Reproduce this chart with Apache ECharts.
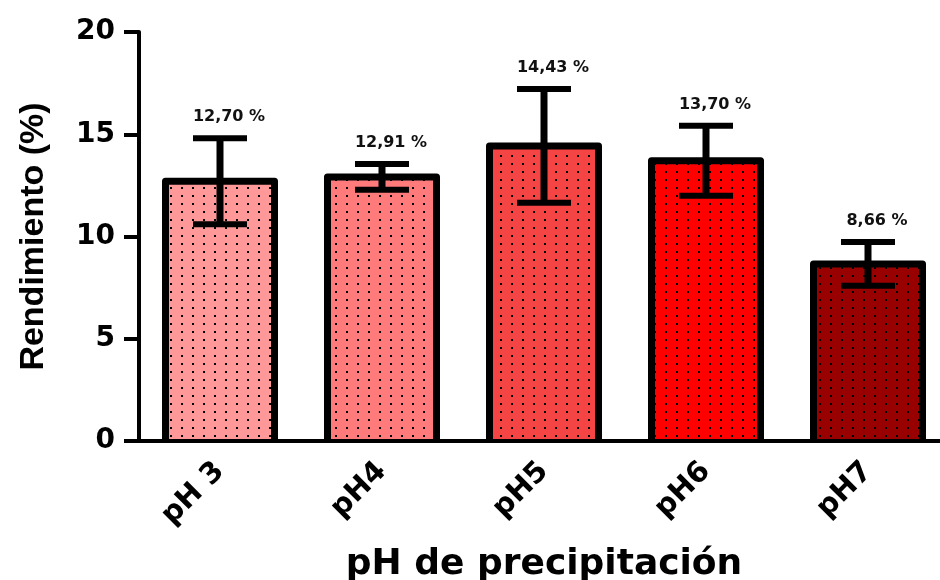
<!DOCTYPE html>
<html>
<head>
<meta charset="utf-8">
<script src="https://cdn.jsdelivr.net/npm/echarts@6/dist/echarts.min.js"></script>
<style>
html, body { margin: 0; padding: 0; background: #ffffff; }
#chart { width: 940px; height: 580px; }
</style>
</head>
<body>
<div id="chart"></div>
<script>
// Yield (%) at each precipitation pH, mean and standard deviation
const categories = ['pH 3', 'pH4', 'pH5', 'pH6', 'pH7'];
const yieldMean = [12.70, 12.91, 14.43, 13.70, 8.66];
const yieldSd = [2.10, 0.63, 2.78, 1.71, 1.07];
const yMin = 0;
const yMax = 20;
const yStep = 5;
const barColors = ['#FF9999', '#FF7B7B', '#F44444', '#FF0000', '#990000'];

const BAR_W = 109;

// Stippled fill: coloured tile with a small black dot
function dottedFill(bg) {
  const c = document.createElement('canvas');
  c.width = 11;
  c.height = 8;
  const g = c.getContext('2d');
  g.fillStyle = bg;
  g.fillRect(0, 0, c.width, c.height);
  g.fillStyle = '#000000';
  g.fillRect(5, 3, 2, 2);
  return { image: c, repeat: 'repeat' };
}

function fmtPct(v) {
  return v.toFixed(2).replace('.', ',') + ' %';
}

const chart = echarts.init(document.getElementById('chart'));

const barData = yieldMean.map((v, i) => ({
  value: v,
  itemStyle: { color: dottedFill(barColors[i]) }
}));

const errData = yieldMean.map((m, i) => [i, m, yieldSd[i]]);

const tickFont = 'DejaVu Sans';

chart.setOption({
  animation: false,
  backgroundColor: '#ffffff',
  grid: {
    left: 139,
    top: 32,
    width: 810,
    height: 409,
    containLabel: false,
    outerBoundsMode: 'none'
  },
  xAxis: {
    type: 'category',
    data: categories,
    boundaryGap: true,
    z: 3,
    axisLine: { lineStyle: { color: '#000', width: 4 } },
    axisTick: { alignWithLabel: true, length: 11, lineStyle: { color: '#000', width: 4 } },
    axisLabel: {
      rotate: 45,
      margin: 26,
      color: '#000',
      fontFamily: tickFont,
      fontWeight: 'bold',
      fontSize: 29
    },
    name: 'pH de precipitación',
    nameLocation: 'middle',
    nameGap: 106,
    nameTextStyle: {
      color: '#000',
      fontFamily: tickFont,
      fontWeight: 'bold',
      fontSize: 36
    },
    splitLine: { show: false }
  },
  yAxis: {
    type: 'value',
    min: yMin,
    max: yMax,
    interval: yStep,
    axisLine: { show: true, lineStyle: { color: '#000', width: 4 } },
    axisTick: { show: true, length: 15, lineStyle: { color: '#000', width: 4 } },
    axisLabel: {
      margin: 24,
      color: '#000',
      fontFamily: tickFont,
      fontWeight: 'bold',
      fontSize: 28
    },
    splitLine: { show: false },
    name: 'Rendimiento (%)',
    nameLocation: 'middle',
    nameGap: 88,
    nameTextStyle: {
      color: '#000',
      fontFamily: 'Liberation Sans',
      fontWeight: 'bold',
      fontSize: 34
    }
  },
  series: [
    {
      // stippled fill of each bar
      type: 'bar',
      data: barData,
      barWidth: BAR_W,
      z: 2
    },
    {
      // bar outlines (open at the base), error bars and value labels
      type: 'custom',
      data: errData,
      z: 5,
      encode: { x: 0, y: 1 },
      renderItem: function (params, api) {
        const idx = api.value(0);
        const m = api.value(1);
        const s = api.value(2);
        const top = api.coord([idx, m]);
        const base = api.coord([idx, 0]);
        const hi = api.coord([idx, m + s]);
        const lo = api.coord([idx, m - s]);
        const x = top[0];
        const hw = BAR_W / 2;
        const half = 27;
        return {
          type: 'group',
          children: [
            {
              type: 'polyline',
              shape: {
                points: [[x - hw, base[1]], [x - hw, top[1]], [x + hw, top[1]], [x + hw, base[1]]]
              },
              style: { stroke: '#000', lineWidth: 7, fill: null, lineJoin: 'round' }
            },
            { type: 'line', shape: { x1: x, y1: hi[1], x2: x, y2: lo[1] }, style: { stroke: '#000', lineWidth: 7 } },
            { type: 'line', shape: { x1: x - half, y1: hi[1], x2: x + half, y2: hi[1] }, style: { stroke: '#000', lineWidth: 6 } },
            { type: 'line', shape: { x1: x - half, y1: lo[1], x2: x + half, y2: lo[1] }, style: { stroke: '#000', lineWidth: 6 } },
            {
              type: 'text',
              x: x + 9,
              y: hi[1] - 21,
              style: {
                text: fmtPct(m),
                fill: '#111',
                font: 'bold 16px "DejaVu Sans"',
                align: 'center',
                verticalAlign: 'middle'
              }
            }
          ]
        };
      }
    }
  ]
});
</script>
</body>
</html>
